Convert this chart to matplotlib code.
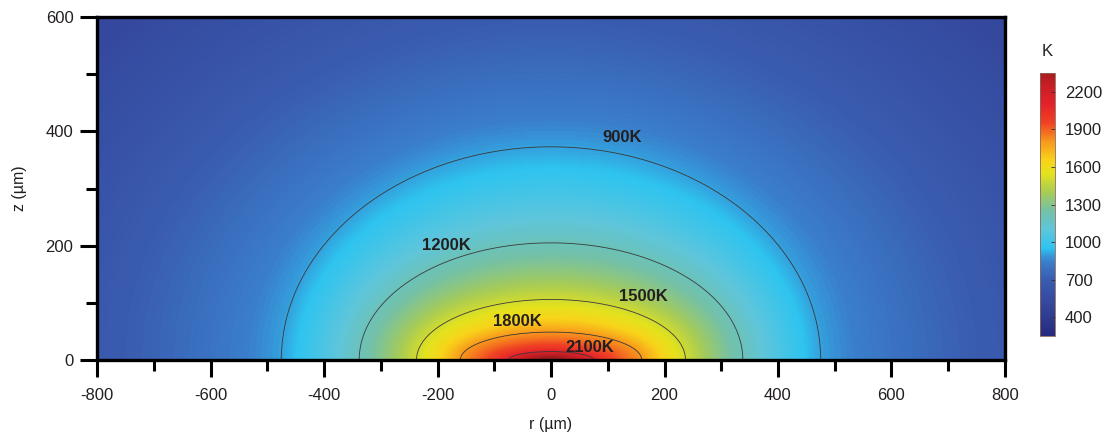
import numpy as np
import matplotlib
matplotlib.use('Agg')
import matplotlib.pyplot as plt
from matplotlib.colors import LinearSegmentedColormap, Normalize

plt.rcParams['font.family'] = ['Liberation Sans', 'DejaVu Sans']
plt.rcParams['axes.unicode_minus'] = False

# isotherms: level (K), half width along r and height along z (um)
contour_levels = [900, 1200, 1500, 1800, 2100]
field_T = [2100, 1800, 1500, 1200, 900, 700, 500]
semi_r = [75, 160, 237, 338, 475, 760, 1100]
semi_z = [14.5, 49, 106, 205, 373, 600, 900]
T_peak = 2420

label_text = ['900K', '1200K', '1500K', '1800K', '2100K']
label_r = [126, -184, 163, -59, 69]
label_z = [389, 201, 111, 67, 22]

cbar_ticks = [400, 700, 1000, 1300, 1600, 1900, 2200]
x_major = np.arange(-800, 801, 200)
x_minor = np.arange(-700, 800, 200)
y_major = [0, 200, 400, 600]
y_minor = [100, 300, 500]

# temperature field built between the read isotherms
r = np.linspace(-800, 800, 801)
z = np.linspace(0, 600, 301)
R, Z = np.meshgrid(r, z)
f = np.array([np.sqrt((R / a) ** 2 + (Z / b) ** 2) for a, b in zip(semi_r, semi_z)])
T = np.zeros_like(R)
inner = f[0] < 1
T[inner] = T_peak - (T_peak - field_T[0]) * f[0][inner] ** 1.5
for k in range(len(field_T) - 1):
    m = (f[k] >= 1) & (f[k + 1] < 1)
    u0 = np.log(f[k][m])
    u1 = np.log(f[k + 1][m])
    frac = u0 / (u0 - u1)
    T[m] = field_T[k] + frac * (field_T[k + 1] - field_T[k])
outer = f[-1] >= 1
T[outer] = field_T[-1] - 300 * np.log(f[-1][outer])

# colour stops (K) as seen in the heat map
tmin, tmax = 250, 2450
stops = [
    (250, '#262a7e'),
    (500, '#34479c'),
    (700, '#3a5cb0'),
    (850, '#3a80cc'),
    (950, '#2ec4f0'),
    (1100, '#5ec6dc'),
    (1250, '#74c1a8'),
    (1400, '#a8cc55'),
    (1550, '#e4e21e'),
    (1650, '#f8d41a'),
    (1800, '#f89a1c'),
    (1950, '#f04424'),
    (2100, '#e4222a'),
    (2250, '#c81f26'),
    (2450, '#8b1a1a'),
]
cmap = LinearSegmentedColormap.from_list(
    'heat', [((t - tmin) / (tmax - tmin), c) for t, c in stops])
norm = Normalize(tmin, tmax)

fig = plt.figure(figsize=(11.1, 4.34), dpi=100)
ax = fig.add_axes([0.0874, 0.1705, 0.818, 0.790])
im = ax.imshow(T, extent=[-800, 800, 0, 600], origin='lower', aspect='auto',
               cmap=cmap, norm=norm, interpolation='bilinear')
ax.contour(R, Z, T, levels=contour_levels, colors='#3a3a3a', linewidths=0.6)
for txt, lr, lz in zip(label_text, label_r, label_z):
    ax.text(lr, lz, txt, ha='center', va='center', fontsize=12,
            fontweight='bold', color='#231f20')

ax.set_xlim(-800, 800)
ax.set_ylim(0, 600)
ax.set_xticks(x_major)
ax.set_xticks(x_minor, minor=True)
ax.set_yticks(y_major)
ax.set_yticks(y_minor, minor=True)
ax.tick_params(which='major', length=12, width=2.2, direction='out',
               labelsize=12, labelcolor='#231f20', pad=5)
ax.tick_params(axis='x', which='major', pad=8)
ax.tick_params(which='minor', length=8, width=2.2, direction='out')
for s in ax.spines.values():
    s.set_linewidth(2.4)
ax.set_xlabel('r (µm)', fontsize=11.5, color='#231f20', labelpad=10)
ax.set_ylabel('z (µm)', fontsize=11.5, color='#231f20', labelpad=13)

cax = fig.add_axes([0.937, 0.2258, 0.0135, 0.606])
cb = fig.colorbar(im, cax=cax, ticks=cbar_ticks)
cax.set_ylim(250, 2350)
cb.outline.set_linewidth(0.6)
cb.outline.set_edgecolor('#8a6a5a')
cax.tick_params(direction='in', length=3, width=0.6, color='#333333',
                labelsize=12, labelcolor='#231f20', pad=7)
cax.set_title('K', fontsize=12, color='#231f20', pad=12)

fig.savefig('out.png', dpi=100)
